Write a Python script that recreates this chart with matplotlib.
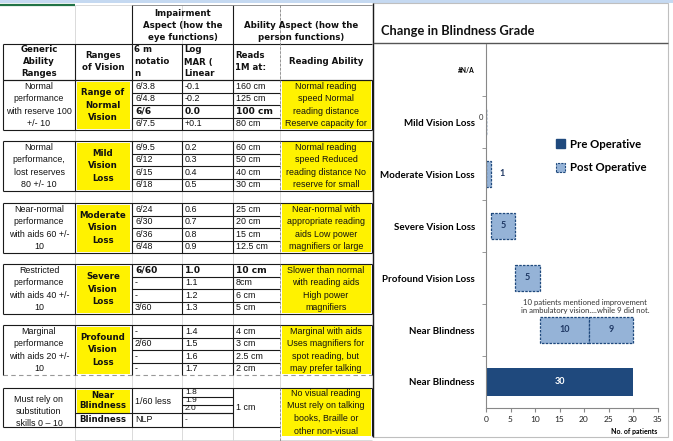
import numpy as np
import matplotlib.pyplot as plt
from matplotlib.patches import Rectangle, Patch

W, H = 673, 441

# ---- chart data (top to bottom) ----
categories = ["#N/A", "Mild Vision Loss", "Moderate Vision Loss", "Severe Vision Loss",
              "Profound Vision Loss", "Near Blindness", "Near Blindness"]
post_improved = [0, 1, 5, 5, 10]      # Mild .. Near Blindness, post operative
post_not_improved = 9                 # Near Blindness, no improvement
pre_operative = 30                    # Near Blindness, pre operative
note = "10 patients mentioned improvement\nin ambulatory vision....while 9 did not."

# ---- table data ----
ability_ranges = [
    "Normal\nperformance\nwith reserve 100\n+/- 10",
    "Normal\nperformance,\nlost reserves\n80 +/- 10",
    "Near-normal\nperformance\nwith aids 60 +/-\n10",
    "Restricted\nperformance\nwith aids 40 +/-\n10",
    "Marginal\nperformance\nwith aids 20 +/-\n10",
    "Must rely on\nsubstitution\nskills 0 \u2013 10",
]
vision_ranges = ["Range of\nNormal\nVision", "Mild\nVision\nLoss", "Moderate\nVision\nLoss",
                 "Severe\nVision\nLoss", "Profound\nVision\nLoss", "Near\nBlindness"]
notation = [["6/3.8", "6/4.8", "6/6", "6/7.5"],
            ["6/9.5", "6/12", "6/15", "6/18"],
            ["6/24", "6/30", "6/36", "6/48"],
            ["6/60", "-", "-", "3/60"],
            ["-", "2/60", "-", "-"]]
logmar = [["-0.1", "-0.2", "0.0", "+0.1"],
          ["0.2", "0.3", "0.4", "0.5"],
          ["0.6", "0.7", "0.8", "0.9"],
          ["1.0", "1.1", "1.2", "1.3"],
          ["1.4", "1.5", "1.6", "1.7"],
          ["1.8", "1.9", "2.0", "-"]]
reads_at = [["160 cm", "125 cm", "100 cm", "80 cm"],
            ["60 cm", "50 cm", "40 cm", "30 cm"],
            ["25 cm", "20 cm", "15 cm", "12.5 cm"],
            ["10 cm", "8cm", "6 cm", "5 cm"],
            ["4 cm", "3 cm", "2.5 cm", "2 cm"]]
reading_ability = [
    "Normal reading\nspeed Normal\nreading distance\nReserve capacity for",
    "Normal reading\nspeed Reduced\nreading distance No\nreserve for small",
    "Near-normal with\nappropriate reading\naids Low power\nmagnifiers or large",
    "Slower than normal\nwith reading aids\nHigh power\nmagnifiers",
    "Marginal with aids\nUses magnifiers for\nspot reading, but\nmay prefer talking",
    "No visual reading\nMust rely on talking\nbooks, Braille or\nother non-visual",
]
bold_row = {0: 2, 3: 0}

# ---- styles ----
YELLOW = "#fff200"
DARK = "#1a1a1a"
GRID = "#d4d4d4"
PRE = "#1f497d"
POST = "#95b3d7"
body = dict(family="Liberation Sans", fontsize=6.4, color="#111111")
head = dict(family="DejaVu Sans", fontsize=6.2, fontweight="bold", color="#111111")
chart_font = "Lato"

fig = plt.figure(figsize=(W / 100, H / 100), dpi=100)
tab = fig.add_axes([0, 0, 1, 1])
tab.set_xlim(0, W)
tab.set_ylim(H, 0)
tab.axis("off")

cols = [3, 75, 132, 182, 233, 280, 372]


def hline(y, x0, x1, color=DARK, lw=0.8, ls="-"):
    tab.plot([x0, x1], [y, y], color=color, lw=lw, ls=ls, solid_capstyle="butt")


def vline(x, y0, y1, color=DARK, lw=0.8, ls="-"):
    tab.plot([x, x], [y0, y1], color=color, lw=lw, ls=ls, solid_capstyle="butt")


def dashed(x, y0, y1):
    vline(x, y0, y1, color="#888888", lw=0.6, ls=(0, (3, 2)))


def lines_at(x, ys, text, **kw):
    for yy, t in zip(ys, text.split("\n")):
        tab.text(x, yy, t, va="center", **kw)


# window chrome
tab.add_patch(Rectangle((0, 0), W, 3, color="#c5d9f1", lw=0))
hline(5, 0, 75, color="#217346", lw=1.6)

# excel grid in the table area
for x in cols[1:-1]:
    vline(x, 5, H, color=GRID, lw=0.6)
for yy in [5, 440]:
    hline(yy, 75, 372, color=GRID, lw=0.6)

# header
hline(44, 3, 372)
hline(80, 3, 372)
vline(3, 44, 80)
vline(75, 44, 80)
vline(132, 5, 80)
vline(182, 44, 80)
vline(233, 5, 80)
dashed(280, 5, 80)
hline(5, 132, 372, color="#888888", lw=0.6)
lines_at(182.5, [14, 25.5, 37], "Impairment\nAspect (how the\neye functions)", ha="center", **head)
lines_at(301, [25.5, 37], "Ability Aspect (how the\nperson functions)", ha="center", **head)
lines_at(39, [50, 62, 74], "Generic\nAbility\nRanges", ha="center", **head)
lines_at(103, [56, 68], "Ranges\nof Vision", ha="center", **head)
lines_at(134, [50, 62, 74], "6 m\nnotatio\nn", ha="left", **head)
lines_at(184, [50, 62, 74], "Log\nMAR (\nLinear", ha="left", **head)
lines_at(235, [56, 68], "Reads\n1M at:", ha="left", **head)
tab.text(326, 62, "Reading Ability", ha="center", va="center", **head)

# five regular groups
group_tops = [80, 141, 203, 264, 325]
gh, sub = 50, 12.5
for g, top in enumerate(group_tops):
    bot = top + gh
    rows = [top + sub * (k + 0.5) for k in range(4)]
    tab.add_patch(Rectangle((77, top + 2), 53, gh - 3, color=YELLOW, lw=0))
    tab.add_patch(Rectangle((282, top + 1), 89, gh - 2, color=YELLOW, lw=0))
    hline(top, 3, 372)
    hline(bot, 3, 372, ls="-" if g < 4 else (0, (4, 3)),
          color=DARK if g < 4 else "#999999")
    for k in range(1, 4):
        hline(top + sub * k, 132, 280)
    for x in [3, 75, 132, 182, 233, 372]:
        vline(x, top, bot)
    dashed(280, top, bot)
    lines_at(39, rows, ability_ranges[g], ha="center", **body)
    lines_at(103, [top + 12.5, top + 25, top + 37.5], vision_ranges[g], ha="center", **head)
    for k in range(4):
        st = dict(body)
        if bold_row.get(g) == k:
            st = dict(head, fontsize=6.6)
        tab.text(135, rows[k], notation[g][k], va="center", ha="left", **st)
        tab.text(185, rows[k], logmar[g][k], va="center", ha="left", **st)
        tab.text(236, rows[k], reads_at[g][k], va="center", ha="left", **st)
    lines_at(326, rows, reading_ability[g], ha="center", **body)

# last group: near blindness / blindness
top, bot = 388, 427
edges = [388, 397, 405, 413, 427]
tab.add_patch(Rectangle((77, top + 1.5), 53, 413 - top - 2, color=YELLOW, lw=0))
tab.add_patch(Rectangle((282, top + 1), 89, 436 - top - 1, color=YELLOW, lw=0))
hline(top, 3, 372)
hline(bot, 3, 280)
hline(413, 75, 233)
for e in edges[1:-1]:
    hline(e, 182, 233)
for x in [3, 75, 132, 182, 233]:
    vline(x, top, bot)
vline(372, top, 436)
dashed(280, top, H)
lines_at(39, [399, 411, 423], ability_ranges[5], ha="center", **body)
lines_at(103, [395, 406], vision_ranges[5], ha="center", **head)
tab.text(103, 420, "Blindness", ha="center", va="center", **head)
tab.text(135, 401, "1/60 less", ha="left", va="center", **body)
tab.text(135, 420, "NLP", ha="left", va="center", **body)
for k in range(4):
    tab.text(185, (edges[k] + edges[k + 1]) / 2, logmar[5][k], ha="left", va="center",
             **dict(body, fontsize=6.0))
tab.text(236, 407, "1 cm", ha="left", va="center", **body)
lines_at(326, [393.5, 406, 418.5, 431], reading_ability[5], ha="center", **body)

# chart panel
tab.add_patch(Rectangle((373, 3), 295, 434, facecolor="white", edgecolor="#bfbfbf", lw=0.8))
vline(373, 3, 437, lw=1.0)
hline(43, 373, 668, color="#555555", lw=1.0)
tab.text(381, 31, "Change in Blindness Grade", ha="left", va="center",
         family=chart_font, fontsize=9.3, fontweight="bold", color="#111111")

# ---- bar chart ----
ax = fig.add_axes([486 / W, 1 - 408 / H, (657.5 - 486) / W, (408 - 44) / H])
ax.set_facecolor("none")
y = np.arange(len(categories))
lefts = np.concatenate([[0], np.cumsum(post_improved)[:-1]])
post_bars = ax.barh(y[1:6], post_improved, left=lefts, height=0.5, color=POST,
                    edgecolor=PRE, linestyle=(0, (2, 1)), linewidth=0.9)
rest_bar = ax.barh(y[5], post_not_improved, left=sum(post_improved), height=0.5,
                   color=POST, edgecolor=PRE, linestyle=(0, (2, 1)), linewidth=0.9)
pre_bar = ax.barh(y[6], pre_operative, height=0.52, color=PRE)

lab = dict(family=chart_font, fontsize=6.5, fontweight="bold")
for bar, v in zip(list(post_bars) + list(rest_bar), post_improved + [post_not_improved]):
    cy = bar.get_y() + bar.get_height() / 2
    if v >= 5:
        ax.text(bar.get_x() + v / 2, cy, str(v), ha="center", va="center", color="#1f3864", **lab)
    elif v > 0:
        ax.annotate(str(v), (bar.get_x() + v, cy), xytext=(6, 0), textcoords="offset points",
                    ha="left", va="center", color="#1f3864", **lab)
    else:
        ax.annotate(str(v), (bar.get_x(), cy), xytext=(-3.6, 3), textcoords="offset points",
                    ha="center", va="center", color="#333333", family=chart_font, fontsize=5.5)
ax.text(pre_operative / 2, y[6], str(pre_operative), ha="center", va="center", color="white", **lab)
ax.text(20.2, 4.55, note, ha="center", va="center", family=chart_font, fontsize=5.6,
        color="#333333", linespacing=1.25)

ax.set_ylim(len(categories) - 0.5, -0.5)
ax.set_xlim(0, 35)
ax.set_xticks(np.arange(0, 36, 5))
ax.set_yticks(y)
ax.set_yticklabels(categories)
ax.set_yticks(np.arange(0.5, len(categories) - 0.5, 1), minor=True)
for t in ax.get_yticklabels():
    t.set_family(chart_font)
    t.set_fontweight("bold")
    t.set_fontsize(7)
ax.get_yticklabels()[0].set_fontsize(4.8)
for t in ax.get_xticklabels():
    t.set_family(chart_font)
    t.set_fontsize(6)
ax.tick_params(axis="y", which="major", length=0, pad=8)
ax.tick_params(axis="y", which="minor", length=3, color="#888888")
ax.tick_params(axis="x", length=3, color="#888888", pad=3, labelcolor="#222222")
for s in ["top", "right"]:
    ax.spines[s].set_visible(False)
for s in ["left", "bottom"]:
    ax.spines[s].set_color("#888888")
    ax.spines[s].set_linewidth(0.8)
ax.set_xlabel("No. of patients", family=chart_font, fontsize=5, fontweight="bold")
ax.xaxis.set_label_coords(1.0, -0.055)
ax.xaxis.label.set_ha("right")

handles = [Patch(facecolor=PRE, edgecolor=PRE),
           Patch(facecolor=POST, edgecolor=PRE, linestyle=(0, (2, 1)), linewidth=0.8)]
ax.legend(handles, ["Pre Operative", "Post Operative"], loc="center left",
          bbox_to_anchor=(546 / W, 1 - 156 / H), bbox_transform=fig.transFigure,
          frameon=False, handlelength=0.8, handleheight=0.8, handletextpad=0.4,
          labelspacing=1.1, prop=dict(family=chart_font, size=8.2, weight="bold"))

fig.savefig("out.png", dpi=100)
